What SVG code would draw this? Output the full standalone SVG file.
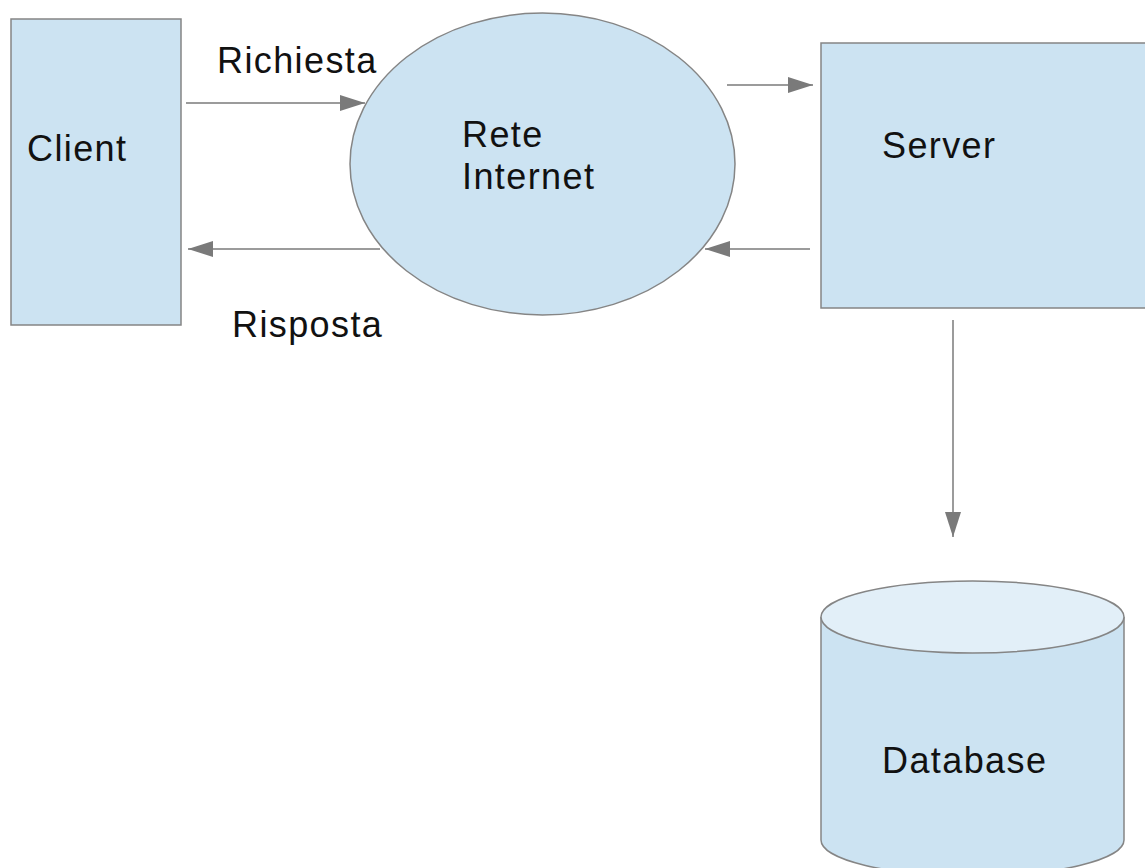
<svg xmlns="http://www.w3.org/2000/svg" width="1145" height="868" viewBox="0 0 1145 868">
<style>
.box{fill:#cce3f2;stroke:#858585;stroke-width:1.5}
.top{fill:#e2eff8;stroke:#858585;stroke-width:1.5}
.lbl{font-family:"Liberation Sans",Arial,sans-serif;font-size:36px;letter-spacing:1.4px;fill:#111}
.con{stroke:#7a7a7a;stroke-width:1.5;fill:none;marker-end:url(#ah)}
</style>
<defs>
<marker id="ah" markerUnits="userSpaceOnUse" markerWidth="26" markerHeight="18" refX="25" refY="8" orient="auto" viewBox="0 0 26 18">
<path d="M0,0 L25,8 L0,16 z" fill="#7a7a7a"/>
</marker>
</defs>
<rect width="1145" height="868" fill="#fff"/>
<g id="client">
<rect class="box" x="11" y="19" width="170" height="306"/>
<text class="lbl" x="27" y="161">Client</text>
</g>
<g id="rete">
<ellipse class="box" cx="542.5" cy="164" rx="192.5" ry="151"/>
<text class="lbl" x="462" y="147">Rete</text>
<text class="lbl" x="462" y="189">Internet</text>
</g>
<g id="server">
<rect class="box" x="821" y="43" width="340" height="265"/>
<text class="lbl" x="882" y="158">Server</text>
</g>
<g id="database">
<path class="box" d="M821,617 L821,840 A151.5,36 0 0 0 1124,840 L1124,617"/>
<ellipse class="top" cx="972.5" cy="617" rx="151.5" ry="36"/>
<text class="lbl" x="882" y="773">Database</text>
</g>
<g id="connectors">
<line class="con" x1="186" y1="103" x2="365" y2="103"/>
<line class="con" x1="380" y1="249" x2="188" y2="249"/>
<line class="con" x1="727" y1="85" x2="813" y2="85"/>
<line class="con" x1="810" y1="249" x2="705" y2="249"/>
<line class="con" x1="953" y1="320" x2="953" y2="537"/>
<text class="lbl" x="217" y="73">Richiesta</text>
<text class="lbl" x="232" y="337">Risposta</text>
</g>
</svg>
